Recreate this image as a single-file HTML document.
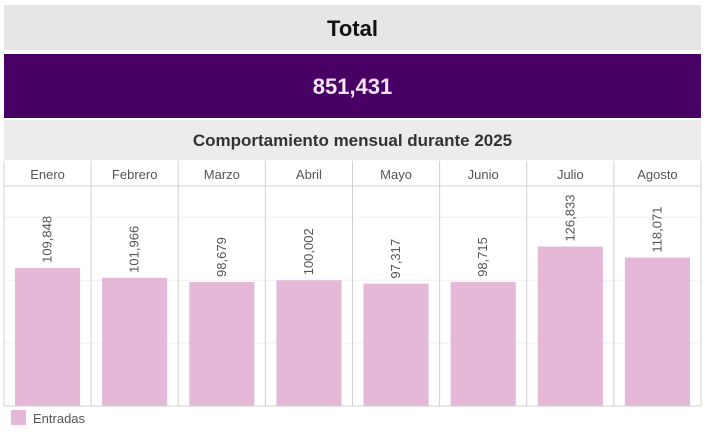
<!DOCTYPE html>
<html><head><meta charset="utf-8"><style>
body{margin:0;width:711px;height:432px;background:#fff;font-family:"Liberation Sans",sans-serif;overflow:hidden;position:relative}
.abs{position:absolute}
</style></head><body>
<div class="abs" style="left:4px;top:5px;width:697px;height:45px;background:#e6e6e6;text-align:center;line-height:47px;font-size:22px;font-weight:bold;color:#111">Total</div>
<div class="abs" style="left:4px;top:54px;width:697px;height:64px;background:#480064;text-align:center;line-height:66px;font-size:22px;font-weight:bold;color:#f3e4f6">851,431</div>
<div class="abs" style="left:4px;top:120px;width:697px;height:40px;background:#ececec;text-align:center;line-height:42px;font-size:17px;font-weight:bold;color:#333">Comportamiento mensual durante 2025</div>
<svg class="abs" style="left:0;top:0" width="711" height="432">
<g id="g"></g>
</svg>
<script>
const months=["Enero","Febrero","Marzo","Abril","Mayo","Junio","Julio","Agosto"];
const values=[109848,101966,98679,100002,97317,98715,126833,118071];
const labels=["109,848","101,966","98,679","100,002","97,317","98,715","126,833","118,071"];
const gridTicks=[50000,100000,150000];
const NS="http://www.w3.org/2000/svg",g=document.getElementById('g');
const X0=4,X1=701,Y0=186,Y1=406,MAX=175000,pw=(X1-X0)/months.length;
const y=v=>Y1-v/MAX*(Y1-Y0);
function el(t,a){const e=document.createElementNS(NS,t);for(const k in a)e.setAttribute(k,a[k]);g.appendChild(e);return e;}
el('line',{x1:X0,x2:X1,y1:186,y2:186,stroke:'#d0d0d0'});
gridTicks.forEach(t=>{const l=el('line',{x1:X0,x2:X1,y1:y(t),y2:y(t),stroke:'#f0f0f0'});

});
months.forEach((m,i)=>{
 const x=X0+i*pw;
 if(i>0){const d=el('line',{x1:x,x2:x,y1:161,y2:Y1,stroke:'#d0d0d0'});
 
 }
 const h=el('text',{x:x+pw/2,y:179,'text-anchor':'middle','font-size':13,fill:'#555'});h.textContent=m;
 
 
 const r=el('rect',{x:x+11,y:y(values[i]),width:pw-22,height:Y1-y(values[i]),fill:'#e6b8d8'});
 
 
 const tx=x+pw/2+4,ty=y(values[i])-5;
 const t=el('text',{x:tx,y:ty,transform:`rotate(-90 ${tx} ${ty})`,'font-size':13,fill:'#555'});t.textContent=labels[i];
 
 
});
el('line',{x1:X0,x2:X1,y1:Y1,y2:Y1,stroke:'#d0d0d0'});
el('line',{x1:X0,x2:X0,y1:161,y2:Y1,stroke:'#d0d0d0'});
el('line',{x1:X1,x2:X1,y1:161,y2:Y1,stroke:'#d0d0d0'});
const ls=el('rect',{x:11,y:410,width:15,height:15,fill:'#e6b8d8'});


const lt=el('text',{x:33,y:423,'font-size':13,fill:'#555'});lt.textContent='Entradas';


</script>
</body></html>
